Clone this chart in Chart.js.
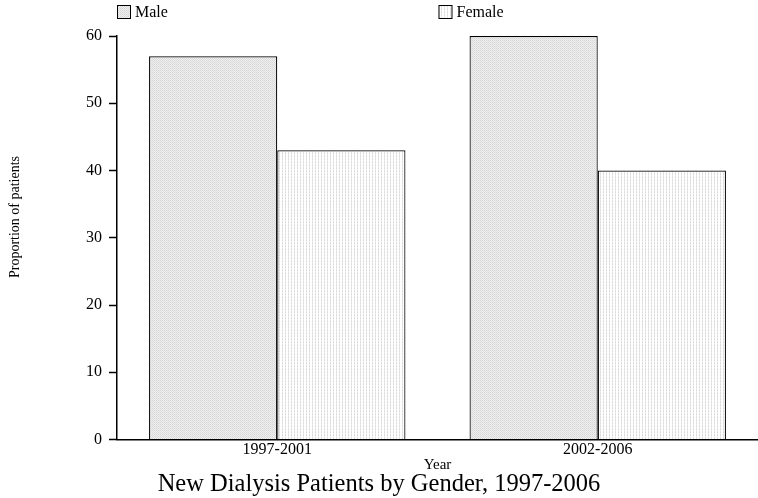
<!DOCTYPE html>
<html>
<head>
<meta charset="utf-8">
<script src="https://cdn.jsdelivr.net/npm/chart.js@4"></script>
<style>
  html, body { margin: 0; padding: 0; background: #fff; }
  #wrap { width: 758px; height: 498px; position: relative; }
</style>
</head>
<body>
<div id="wrap"><canvas id="chart"></canvas></div>
<script>
const periods = ['1997-2001', '2002-2006'];
const maleValues = [57, 60];
const femaleValues = [43, 40];
const yTicks = [0, 10, 20, 30, 40, 50, 60];

const SERIF = '"Liberation Serif", "DejaVu Serif", serif';

// dotted fills like the original print-style shading
function makePattern(size, bg, dots) {
    const c = document.createElement('canvas');
    c.width = size; c.height = size;
    const g = c.getContext('2d');
    g.fillStyle = bg;
    g.fillRect(0, 0, size, size);
    dots.forEach(d => {
        g.fillStyle = d[2];
        g.fillRect(d[0], d[1], 1, 1);
    });
    return g.createPattern(c, 'repeat');
}

const maleFill = makePattern(2, '#efefef', [[0, 0, '#d6d6d6'], [1, 1, '#dedede']]);
const femaleFill = makePattern(3, '#ffffff', [[0, 0, '#d8d8d8'], [0, 1, '#ececec'], [0, 2, '#e0e0e0']]);

// legend along the top, plus the y-axis caption (sits a bit above centre in the original)
const decorations = {
    id: 'decorations',
    afterDraw(chart) {
        const ctx = chart.ctx;
        const area = chart.chartArea;
        const xs = [area.left, (area.left + area.right) / 2 + 1];
        ctx.save();
        ctx.font = '16px ' + SERIF;
        ctx.textBaseline = 'middle';
        chart.data.datasets.forEach((ds, i) => {
            const x = xs[i];
            ctx.fillStyle = ds.backgroundColor;
            ctx.fillRect(x, 5, 14, 14);
            ctx.strokeStyle = '#000';
            ctx.lineWidth = 1;
            ctx.strokeRect(x + 0.5, 5.5, 13, 13);
            ctx.fillStyle = '#000';
            ctx.fillText(ds.label, x + 18, 13);
        });

        ctx.translate(15, 217);
        ctx.rotate(-Math.PI / 2);
        ctx.font = '14px ' + SERIF;
        ctx.textAlign = 'center';
        ctx.fillText('Proportion of patients', 0, 0);
        ctx.restore();
    }
};

new Chart(document.getElementById('chart'), {
    type: 'bar',
    data: {
        labels: periods,
        datasets: [
            { label: 'Male', data: maleValues, backgroundColor: maleFill, borderColor: '#000', borderWidth: 1.2 },
            { label: 'Female', data: femaleValues, backgroundColor: femaleFill, borderColor: '#000', borderWidth: 1.2 }
        ]
    },
    options: {
        responsive: true,
        maintainAspectRatio: false,
        animation: false,
        categoryPercentage: 0.8,
        barPercentage: 1.0,
        layout: { padding: { top: 36, right: 0, left: 0, bottom: 0 } },
        plugins: {
            legend: { display: false },
            tooltip: { enabled: false },
            title: {
                display: true,
                position: 'bottom',
                text: 'New Dialysis Patients by Gender, 1997-2006',
                color: '#000',
                font: { family: SERIF, size: 24.5, weight: 'normal', lineHeight: 1 },
                padding: { top: 0, bottom: 1 }
            }
        },
        scales: {
            x: {
                afterFit: axis => { axis.height = 33; },
                grid: { display: false, drawTicks: false },
                border: { color: '#000', width: 1.5 },
                ticks: { color: '#000', font: { family: SERIF, size: 16, lineHeight: 1 }, padding: 2 },
                title: {
                    display: true, text: 'Year', color: '#000',
                    font: { family: SERIF, size: 15, lineHeight: 1 }, padding: { top: 0, bottom: 0 }
                }
            },
            y: {
                min: 0,
                max: 60,
                afterFit: axis => { axis.width = 117; },
                afterBuildTicks: axis => { axis.ticks = yTicks.map(v => ({ value: v })); },
                grid: { drawOnChartArea: false, drawTicks: true, tickLength: 8, color: '#000', tickWidth: 1.5 },
                border: { color: '#000', width: 1.5 },
                ticks: { color: '#000', font: { family: SERIF, size: 16 }, padding: 7 }
            }
        }
    },
    plugins: [decorations]
});
</script>
</body>
</html>
